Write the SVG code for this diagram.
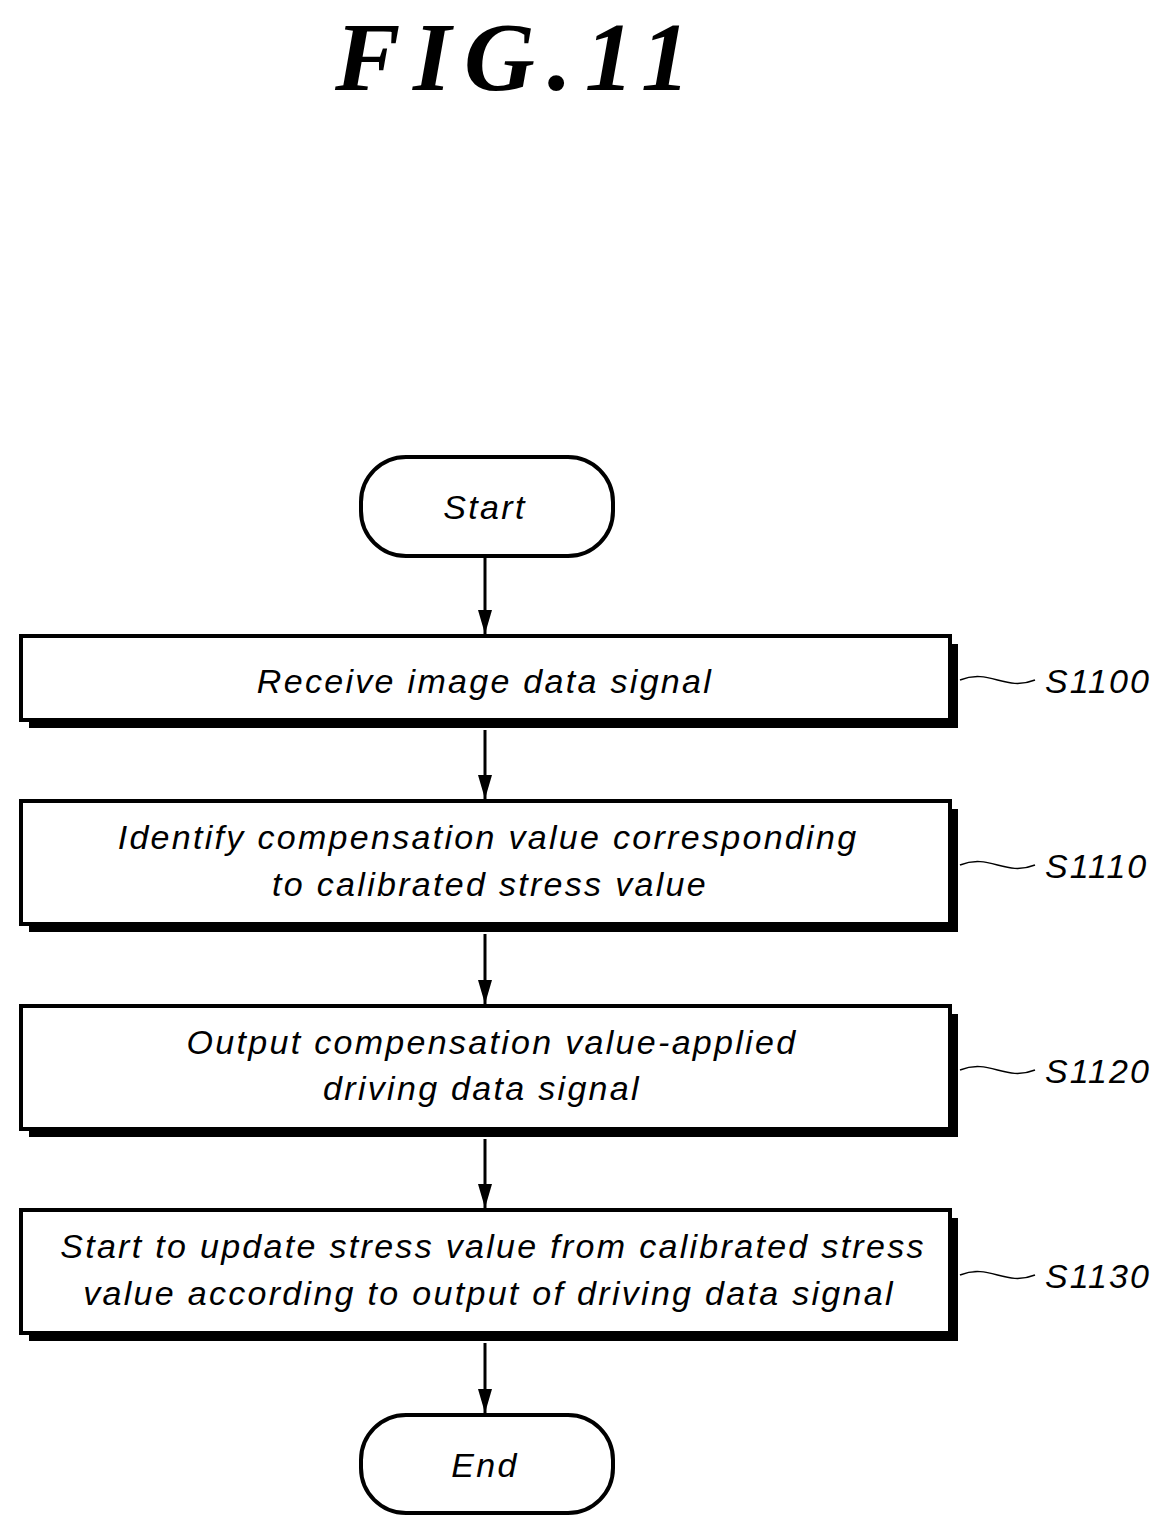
<svg xmlns="http://www.w3.org/2000/svg" width="1172" height="1538" viewBox="0 0 1172 1538">
<style>
.t{font-family:"Liberation Sans",Arial,sans-serif;font-style:italic;font-size:34px;letter-spacing:2.3px;text-anchor:middle;fill:#000}
.l{font-family:"Liberation Sans",Arial,sans-serif;font-style:italic;font-size:34px;letter-spacing:2px;fill:#000}
.b{fill:#fff;stroke:#000;stroke-width:4}
.s{fill:#000}
.c{stroke:#000;stroke-width:3;fill:none}
.w{stroke:#000;stroke-width:1.5;fill:none}
</style>
<defs>
<marker id="ar" viewBox="0 0 24 14" markerWidth="24" markerHeight="14" refX="24" refY="7" orient="auto" markerUnits="userSpaceOnUse"><path d="M0,0L24,7L0,14z"/></marker></defs>
<text x="335" y="90" font-family="Liberation Serif,serif" font-style="italic" font-weight="bold" font-size="98" textLength="355" lengthAdjust="spacing">FIG.11</text>
<g id="start"><rect x="361" y="457" width="252" height="99" rx="45" class="b" stroke-width="5"/><text x="485" y="519" class="t">Start</text></g>
<g id="s1100"><rect x="29" y="644" width="929" height="84" class="s"/><rect x="21" y="636" width="929" height="84" class="b"/><text x="485" y="693" class="t">Receive image data signal</text><path d="M960,680 C990,668 1005,692 1035,680" class="w"/><text x="1045" y="693" class="l">S1100</text></g>
<g id="s1110"><rect x="29" y="809" width="929" height="123" class="s"/><rect x="21" y="801" width="929" height="123" class="b"/><text x="488" y="849" class="t">Identify compensation value corresponding</text><text x="490" y="896" class="t">to calibrated stress value</text><path d="M960,865 C990,853 1005,877 1035,865" class="w"/><text x="1045" y="878" class="l">S1110</text></g>
<g id="s1120"><rect x="29" y="1014" width="929" height="123" class="s"/><rect x="21" y="1006" width="929" height="123" class="b"/><text x="492" y="1054" class="t">Output compensation value-applied</text><text x="482" y="1100" class="t">driving data signal</text><path d="M960,1070 C990,1058 1005,1082 1035,1070" class="w"/><text x="1045" y="1083" class="l">S1120</text></g>
<g id="s1130"><rect x="29" y="1218" width="929" height="123" class="s"/><rect x="21" y="1210" width="929" height="123" class="b"/><text x="493" y="1258" class="t">Start to update stress value from calibrated stress</text><text x="489" y="1305" class="t">value according to output of driving data signal</text><path d="M960,1275 C990,1263 1005,1287 1035,1275" class="w"/><text x="1045" y="1288" class="l">S1130</text></g>
<g id="end"><rect x="361" y="1415" width="252" height="98" rx="45" class="b" stroke-width="5"/><text x="485" y="1477" class="t">End</text></g>
<g id="connectors">
<line x1="485" y1="558" x2="485" y2="634" class="c" marker-end="url(#ar)"/>
<line x1="485" y1="730" x2="485" y2="799" class="c" marker-end="url(#ar)"/>
<line x1="485" y1="934" x2="485" y2="1004" class="c" marker-end="url(#ar)"/>
<line x1="485" y1="1139" x2="485" y2="1208" class="c" marker-end="url(#ar)"/>
<line x1="485" y1="1343" x2="485" y2="1413" class="c" marker-end="url(#ar)"/>
</g>
</svg>
